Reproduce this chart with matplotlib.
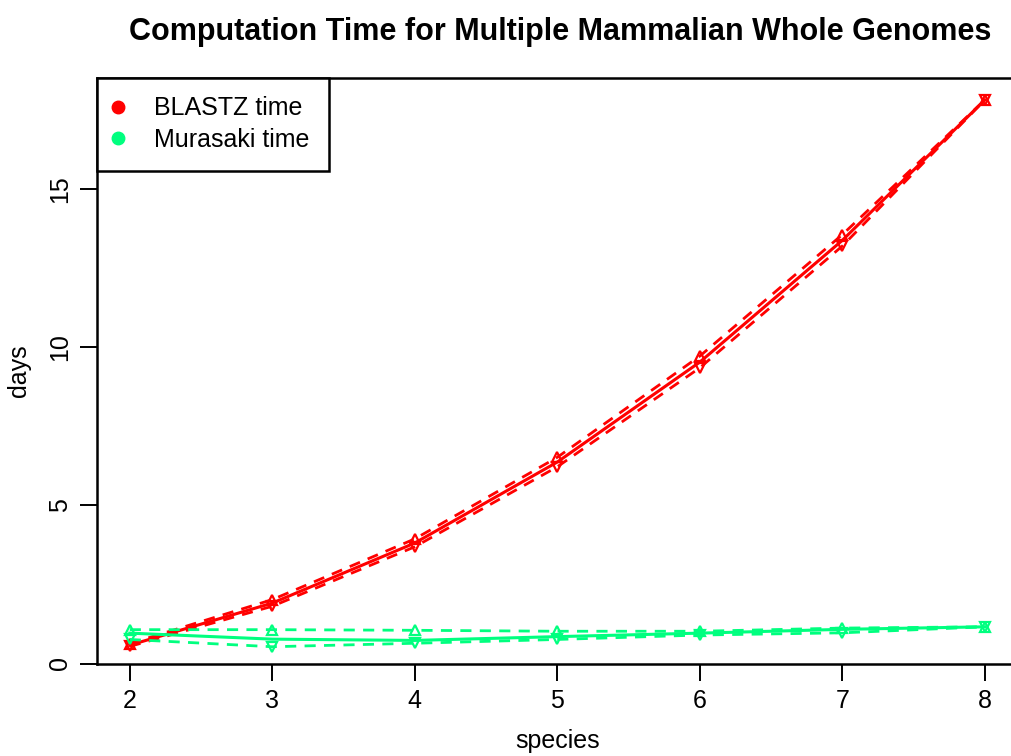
import matplotlib
matplotlib.use("Agg")
import matplotlib.pyplot as plt
from matplotlib.lines import Line2D

plt.rcParams['font.family'] = ['Liberation Sans', 'DejaVu Sans']

species = [2, 3, 4, 5, 6, 7, 8]

blastz_mean = [0.58, 1.91, 3.81, 6.37, 9.53, 13.38, 17.82]
blastz_upper = [0.63, 2.02, 3.94, 6.52, 9.72, 13.56, 17.82]
blastz_lower = [0.54, 1.81, 3.69, 6.22, 9.35, 13.20, 17.82]

murasaki_mean = [0.96, 0.77, 0.73, 0.85, 0.96, 1.08, 1.16]
murasaki_upper = [1.07, 1.07, 1.05, 1.02, 1.02, 1.12, 1.16]
murasaki_lower = [0.76, 0.53, 0.64, 0.76, 0.90, 0.97, 1.16]

RED = '#FF0000'
GREEN = '#00FF7F'

fig = plt.figure(figsize=(10.11, 7.56), dpi=100)
ax = fig.add_axes([97 / 1011, 92.5 / 756, 922 / 1011, 586 / 756])

dash = (4, 3)
for mean, upper, lower, col in [
    (blastz_mean, blastz_upper, blastz_lower, RED),
    (murasaki_mean, murasaki_upper, murasaki_lower, GREEN),
]:
    ax.plot(species, mean, color=col, lw=2.2, solid_joinstyle='round')
    ax.plot(species, upper, color=col, lw=2.0, linestyle=(0, dash),
            marker='^', markersize=7.5, markerfacecolor='none',
            markeredgewidth=1.6, markeredgecolor=col)
    ax.plot(species, lower, color=col, lw=2.0, linestyle=(0, dash),
            marker='v', markersize=7.5, markerfacecolor='none',
            markeredgewidth=1.6, markeredgecolor=col)

ax.set_xlim(1.77, 8.24)
ax.set_ylim(0, 18.53)
ax.set_xticks(species)
ax.set_yticks([0, 5, 10, 15])

for s in ax.spines.values():
    s.set_linewidth(1.8)
    s.set_color('black')

ax.tick_params(axis='both', direction='out', length=12, width=1.4,
               labelsize=18, pad=6)
for lbl in ax.get_yticklabels():
    lbl.set_rotation(90)
    lbl.set_va('center')

ax.set_xlabel('species', fontsize=18, labelpad=12)
ax.set_ylabel('days', fontsize=18, labelpad=12)

fig.text(560 / 1011, 1 - 32 / 756,
         'Computation Time for Multiple Mammalian Whole Genomes',
         ha='center', va='center', fontsize=22, fontweight='bold')

handles = [
    Line2D([], [], linestyle='none', marker='o', markersize=9,
           markerfacecolor=RED, markeredgecolor=RED),
    Line2D([], [], linestyle='none', marker='o', markersize=9,
           markerfacecolor=GREEN, markeredgecolor=GREEN),
]
leg = ax.legend(handles, ['BLASTZ time', 'Murasaki time'],
                loc='upper left', bbox_to_anchor=(0, 1), borderaxespad=0,
                fontsize=18, frameon=True, fancybox=False,
                handletextpad=1.35, handlelength=0.2, labelspacing=0.3,
                borderpad=0.75)
leg.get_frame().set_edgecolor('black')
leg.get_frame().set_linewidth(1.8)
leg.get_frame().set_alpha(1)

fig.savefig('out.png', dpi=100)
